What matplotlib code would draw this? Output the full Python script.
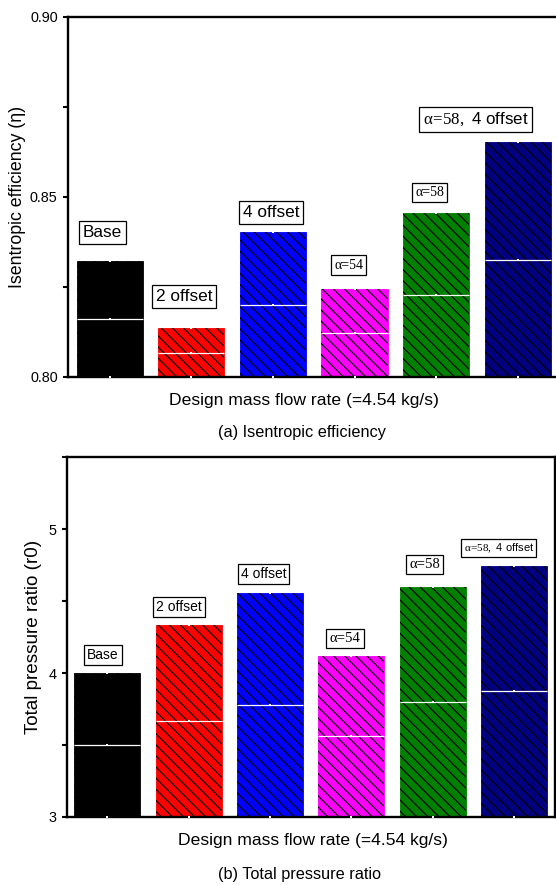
import matplotlib
matplotlib.use("Agg")
import matplotlib.pyplot as plt
from matplotlib.ticker import MultipleLocator, FormatStrFormatter

plt.rcParams['font.family'] = ['Liberation Sans', 'DejaVu Sans']
plt.rcParams['mathtext.fontset'] = 'custom'
plt.rcParams['mathtext.rm'] = 'Liberation Serif'
plt.rcParams['hatch.linewidth'] = 0.42

# data
cases = ['Base', '2 offset', '4 offset', 'α=54', 'α=58', 'α=58, 4 offset']
efficiency = [0.8323, 0.8135, 0.8402, 0.8245, 0.8455, 0.8652]
pressure_ratio = [4.00, 4.335, 4.56, 4.12, 4.602, 4.745]
bar_colors = ['black', 'red', 'blue', 'magenta', 'green', 'navy']

# label box layout (data coords)
eff_label_x = [-0.09, 0.91, 1.975, 2.93, 3.92, 4.49]
eff_label_y = [0.8401, 0.8224, 0.8457, 0.8311, 0.8513, 0.8715]
pr_label_x = [-0.05, 0.88, 1.92, 2.92, 3.90, 4.81]
pr_label_y = [4.125, 4.46, 4.69, 4.24, 4.755, 4.87]


def label_text(name):
    # alpha labels are set in a serif face, the rest in sans
    if name.startswith('α'):
        head, _, tail = name.partition(', ')
        if tail:
            return r'$\mathrm{α\!=\!' + head[2:] + r',}\;$' + tail, 'mixed'
        return name, 'serif'
    return name, 'sans'


def draw_panel(ax, values, ymin, lab_x, lab_y, sizes):
    x = list(range(len(values)))
    heights = [v - ymin for v in values]
    ax.bar(x, heights, bottom=ymin, width=0.81, color=bar_colors,
           edgecolor=bar_colors, linewidth=0.3, zorder=2)
    ax.bar(x, heights, bottom=ymin, width=0.81, color='none',
           edgecolor='black', linewidth=0, hatch='\\\\\\\\\\\\', zorder=3)
    mids = [ymin + h / 2 for h in heights]
    ax.hlines(mids, [i - 0.405 for i in x], [i + 0.405 for i in x],
              colors='white', linewidth=0.45, zorder=4)
    for yy in (mids, values, [ymin] * len(x)):
        ax.plot(x, yy, 's', color='white', markersize=0.9, markeredgewidth=0,
                zorder=5, clip_on=False)
    for i, name in enumerate(cases):
        s, kind = label_text(name)
        fam = ['Liberation Serif'] if kind == 'serif' else None
        ax.text(lab_x[i], lab_y[i], s, ha='center', va='center', fontsize=sizes[i],
                family=fam,
                bbox=dict(boxstyle='square,pad=0.22', fc='white', ec='black', lw=0.45),
                zorder=6)
    ax.set_xticks([])
    for sp in ax.spines.values():
        sp.set_linewidth(0.85)
    ax.tick_params(axis='y', which='both', direction='out', length=1.9, width=0.75,
                   labelsize=5.2, pad=1.8)


fig = plt.figure(figsize=(2.78, 4.425), dpi=200)

ax1 = fig.add_axes([68 / 556, 1 - 377 / 885, 491.5 / 556, 360 / 885])
draw_panel(ax1, efficiency, 0.80, eff_label_x, eff_label_y,
           [6.2, 6.2, 6.2, 5.0, 5.0, 6.1])
ax1.set_xlim(-0.515, 5.515)
ax1.set_ylim(0.80, 0.90)
ax1.yaxis.set_major_locator(MultipleLocator(0.05))
ax1.yaxis.set_minor_locator(MultipleLocator(0.025))
ax1.yaxis.set_major_formatter(FormatStrFormatter('%.2f'))
ax1.set_ylabel('Isentropic efficiency (η)', fontsize=6.4)
ax1.yaxis.set_label_coords(-0.085, 0.5)
ax1.set_xlabel('Design mass flow rate (=4.54 kg/s)', fontsize=6.3, va='top')
ax1.xaxis.set_label_coords(0.48, -0.045)

ax2 = fig.add_axes([66.5 / 556, 1 - 817 / 885, 488.5 / 556, 359.7 / 885])
draw_panel(ax2, pressure_ratio, 3.0, pr_label_x, pr_label_y,
           [5.0, 5.0, 5.0, 5.3, 5.3, 4.0])
ax2.set_xlim(-0.5, 5.5)
ax2.set_ylim(3.0, 5.5)
ax2.yaxis.set_major_locator(MultipleLocator(1))
ax2.yaxis.set_minor_locator(MultipleLocator(0.5))
ax2.set_ylabel('Total pressure ratio (r0)', fontsize=6.8)
ax2.yaxis.set_label_coords(-0.05, 0.5)
ax2.set_xlabel('Design mass flow rate (=4.54 kg/s)', fontsize=6.3, va='top')
ax2.xaxis.set_label_coords(0.504, -0.045)

fig.text(301.5 / 556, 1 - 432 / 885, '(a) Isentropic efficiency',
         ha='center', va='center', fontsize=5.85)
fig.text(299 / 556, 1 - 875 / 885, '(b) Total pressure ratio',
         ha='center', va='center', fontsize=5.85)

fig.savefig('out.png', dpi=200)
